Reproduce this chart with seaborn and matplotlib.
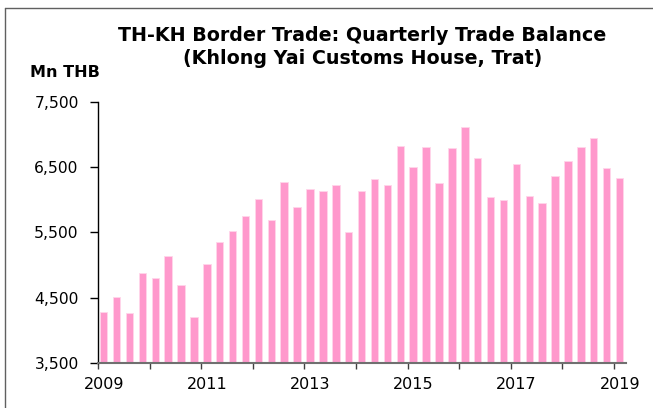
import matplotlib
matplotlib.use("Agg")
import matplotlib.pyplot as plt
from matplotlib.lines import Line2D
from matplotlib.ticker import FuncFormatter, FixedLocator
from matplotlib.transforms import ScaledTranslation
import seaborn as sns
import pandas as pd

# Quarterly trade balance, Khlong Yai customs house (Mn THB), 2009Q1 - 2019Q1
years = [2009] * 4 + [2010] * 4 + [2011] * 4 + [2012] * 4 + [2013] * 4 + \
        [2014] * 4 + [2015] * 4 + [2016] * 4 + [2017] * 4 + [2018] * 4 + [2019]
quarters = [1, 2, 3, 4] * 10 + [1]
balance = [4283, 4509, 4263, 4883,
           4801, 5139, 4698, 4197,
           5021, 5354, 5523, 5753,
           6014, 5692, 6281, 5892,
           6173, 6142, 6224, 5508,
           6142, 6327, 6224, 6829,
           6511, 6813, 6260, 6798,
           7116, 6644, 6040, 5995,
           6548, 6061, 5953, 6363,
           6598, 6813, 6947, 6497,
           6342]

year_ticks = list(range(2009, 2020))
year_labels = [str(y) if (y - 2009) % 2 == 0 else "" for y in year_ticks]
value_ticks = [3500, 4500, 5500, 6500, 7500]

df = pd.DataFrame({"year": years, "quarter": quarters, "balance": balance})
# place each quarter inside its year on a continuous time axis
df["t"] = df["year"] + (df["quarter"] - 1) * 0.25 + 0.11

sns.set_theme(style="white")
plt.rcParams["font.family"] = ["DejaVu Sans"]
plt.rcParams["text.color"] = "black"
plt.rcParams["xtick.color"] = "black"
plt.rcParams["ytick.color"] = "black"

fig = plt.figure(figsize=(6.53, 4.08), dpi=100)
ax = fig.add_axes([0.1501, 0.111, 0.8081, 0.6383])

sns.barplot(data=df, x="t", y="balance", native_scale=True, width=0.58,
            color="#FF99CC", saturation=1, edgecolor="#FFD6EA", linewidth=0.6,
            ax=ax)

ax.set_xlim(2009, 2019.23)
ax.set_ylim(3500, 7500)
ax.yaxis.set_major_locator(FixedLocator(value_ticks))
ax.yaxis.set_major_formatter(FuncFormatter(lambda v, p: f"{int(v):,}"))
ax.set_xticks(year_ticks)
ax.set_xticklabels(year_labels)
ax.set_xlabel("")
ax.set_ylabel("")

for s in ["top", "right"]:
    ax.spines[s].set_visible(False)
ax.spines["left"].set_color("black")
ax.spines["left"].set_linewidth(1.0)
ax.spines["bottom"].set_color("#707070")
ax.spines["bottom"].set_linewidth(1.5)
ax.tick_params(axis="y", direction="out", length=5.5, width=1.0, color="black",
               labelcolor="black", labelsize=11.2, pad=8.4, left=True)
ax.tick_params(axis="x", direction="out", length=4, width=1.0, color="#404040",
               labelcolor="black", labelsize=11.5, pad=6.5, bottom=True)
shift = ScaledTranslation(6 / 100, 0, fig.dpi_scale_trans)
for lbl in ax.get_xticklabels():
    lbl.set_transform(lbl.get_transform() + shift)

fig.text(0.555, 1 - 41 / 408, "TH-KH Border Trade: Quarterly Trade Balance",
         ha="center", va="baseline", fontsize=13.7, fontweight="bold",
         color="black")
fig.text(0.555, 1 - 64.5 / 408, "(Khlong Yai Customs House, Trat)",
         ha="center", va="baseline", fontsize=13.7, fontweight="bold",
         color="black")
fig.text(30 / 653, 1 - 76.7 / 408, "Mn THB", ha="left", va="baseline",
         fontsize=11.5, fontweight="bold", color="black")

# outer frame
fig.add_artist(Line2D([5 / 653, 5 / 653], [0, 1 - 8 / 408],
                      transform=fig.transFigure, color="#606060", lw=1.0))
fig.add_artist(Line2D([5 / 653, 1], [1 - 8 / 408, 1 - 8 / 408],
                      transform=fig.transFigure, color="#606060", lw=1.0))

fig.savefig("out.png", dpi=100)
